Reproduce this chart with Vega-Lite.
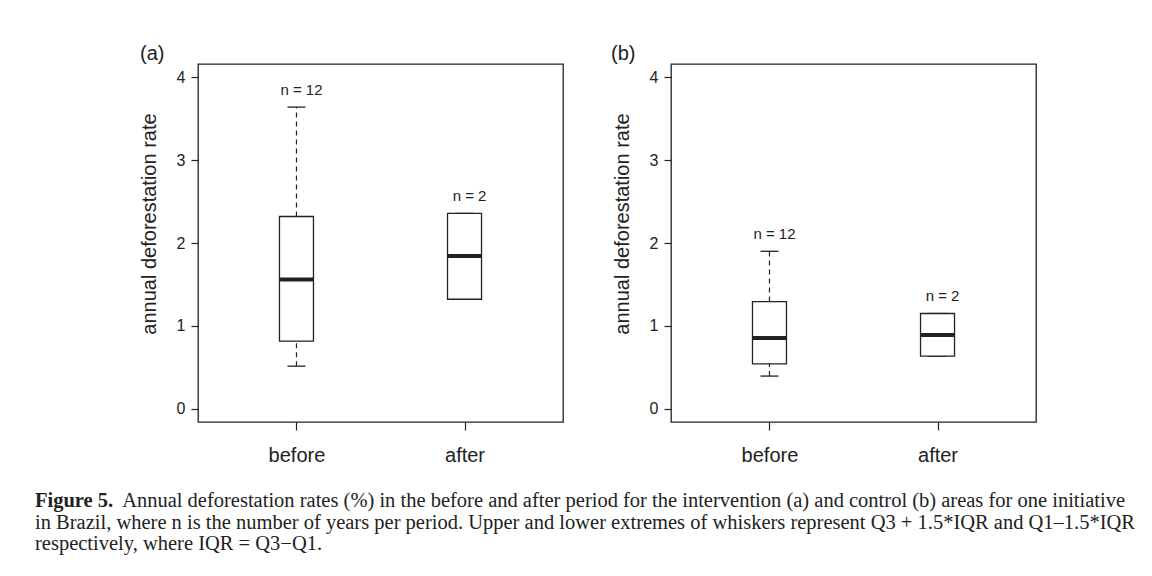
{
  "$schema": "https://vega.github.io/schema/vega-lite/v6.json",
  "padding": {"left": 35, "top": 42, "right": 5, "bottom": 5},
  "background": "white",
  "bounds": "flush",
  "spacing": 108,
  "datasets": {
    "boxes": [
      {"panel": "a", "period": "before", "lower": 0.514, "q1": 0.815, "median": 1.56, "q3": 2.32, "upper": 3.64, "nlabel": "n = 12", "label_y": 3.85},
      {"panel": "a", "period": "after", "lower": 1.321, "q1": 1.321, "median": 1.843, "q3": 2.357, "upper": 2.357, "nlabel": "n = 2", "label_y": 2.57},
      {"panel": "b", "period": "before", "lower": 0.394, "q1": 0.542, "median": 0.855, "q3": 1.293, "upper": 1.9, "nlabel": "n = 12", "label_y": 2.11},
      {"panel": "b", "period": "after", "lower": 0.635, "q1": 0.635, "median": 0.891, "q3": 1.149, "upper": 1.149, "nlabel": "n = 2", "label_y": 1.36}
    ]
  },
  "title": {
    "text": "Figure 5.",
    "subtitle": [
      "\u200b\u00a0\u00a0\u00a0\u00a0\u00a0\u00a0\u00a0\u00a0\u00a0\u00a0\u00a0\u00a0\u00a0\u00a0\u00a0\u00a0\u00a0Annual deforestation rates (%) in the before and after period for the intervention (a) and control (b) areas for one initiative",
      "in Brazil, where n is the number of years per period. Upper and lower extremes of whiskers represent Q3 + 1.5*IQR and Q1–1.5*IQR",
      "respectively, where IQR = Q3−Q1."
    ],
    "orient": "bottom",
    "anchor": "start",
    "frame": "group",
    "dx": -163,
    "offset": 25,
    "baseline": "top",
    "font": "Liberation Serif",
    "fontSize": 20.5,
    "fontWeight": "bold",
    "color": "#222",
    "subtitleFont": "Liberation Serif",
    "subtitleFontSize": 20.5,
    "subtitleFontWeight": "normal",
    "subtitleColor": "#222",
    "subtitleLineHeight": 21.5,
    "subtitlePadding": -20.5
  },
  "hconcat": [
    {
      "width": 365,
      "height": 358,
      "title": {"text": "(a)", "anchor": "start", "frame": "group", "dx": -58, "offset": -15.5, "baseline": "alphabetic", "fontSize": 20, "fontWeight": "normal", "color": "#222"},
      "data": {"name": "boxes"},
      "transform": [{"filter": "datum.panel == 'a'"}],
      "encoding": {
        "x": {"field": "period", "type": "nominal", "sort": ["before", "after"], "scale": {"type": "point", "padding": 0.586},
              "axis": {"title": null, "tickSize": 8, "labelPadding": 15.5, "labelFontSize": 20, "labelAngle": 0}},
        "y": {"type": "quantitative", "scale": {"domain": [-0.16, 4.16], "nice": false, "zero": false},
              "axis": {"values": [0, 1, 2, 3, 4], "title": "annual deforestation rate", "titleFontSize": 20, "titleX": -43, "titleY": 159.5, "titleBaseline": "alphabetic", "tickSize": 7, "labelPadding": 6, "labelFontSize": 16, "labelAngle": 0, "labelAlign": "right", "labelBaseline": "middle"}}
      },
      "layer": [
        {"mark": {"type": "rule", "stroke": "#222", "strokeWidth": 1.2, "strokeDash": [5, 4]}, "encoding": {"y": {"field": "q3", "type": "quantitative"}, "y2": {"field": "upper"}}},
        {"mark": {"type": "rule", "stroke": "#222", "strokeWidth": 1.2, "strokeDash": [5, 4]}, "encoding": {"y": {"field": "lower", "type": "quantitative"}, "y2": {"field": "q1"}}},
        {"mark": {"type": "tick", "color": "#222", "opacity": 1, "size": 18, "thickness": 1.3}, "encoding": {"y": {"field": "upper", "type": "quantitative"}}},
        {"mark": {"type": "tick", "color": "#222", "opacity": 1, "size": 18, "thickness": 1.3}, "encoding": {"y": {"field": "lower", "type": "quantitative"}}},
        {"mark": {"type": "bar", "width": 34, "fill": "white", "stroke": "#222", "strokeWidth": 1.3}, "encoding": {"y": {"field": "q1", "type": "quantitative"}, "y2": {"field": "q3"}}},
        {"mark": {"type": "tick", "color": "#222", "opacity": 1, "size": 34, "thickness": 4}, "encoding": {"y": {"field": "median", "type": "quantitative"}}},
        {"mark": {"type": "text", "fontSize": 15, "color": "#222", "baseline": "middle", "dx": 5}, "encoding": {"y": {"field": "label_y", "type": "quantitative"}, "text": {"field": "nlabel"}}}
      ]
    },
    {
      "width": 365,
      "height": 358,
      "title": {"text": "(b)", "anchor": "start", "frame": "group", "dx": -60, "offset": -15.5, "baseline": "alphabetic", "fontSize": 20, "fontWeight": "normal", "color": "#222"},
      "data": {"name": "boxes"},
      "transform": [{"filter": "datum.panel == 'b'"}],
      "encoding": {
        "x": {"field": "period", "type": "nominal", "sort": ["before", "after"], "scale": {"type": "point", "padding": 0.586},
              "axis": {"title": null, "tickSize": 8, "labelPadding": 15.5, "labelFontSize": 20, "labelAngle": 0}},
        "y": {"type": "quantitative", "scale": {"domain": [-0.16, 4.16], "nice": false, "zero": false},
              "axis": {"values": [0, 1, 2, 3, 4], "title": "annual deforestation rate", "titleFontSize": 20, "titleX": -43, "titleY": 159.5, "titleBaseline": "alphabetic", "tickSize": 7, "labelPadding": 6, "labelFontSize": 16, "labelAngle": 0, "labelAlign": "right", "labelBaseline": "middle"}}
      },
      "layer": [
        {"mark": {"type": "rule", "stroke": "#222", "strokeWidth": 1.2, "strokeDash": [5, 4]}, "encoding": {"y": {"field": "q3", "type": "quantitative"}, "y2": {"field": "upper"}}},
        {"mark": {"type": "rule", "stroke": "#222", "strokeWidth": 1.2, "strokeDash": [5, 4]}, "encoding": {"y": {"field": "lower", "type": "quantitative"}, "y2": {"field": "q1"}}},
        {"mark": {"type": "tick", "color": "#222", "opacity": 1, "size": 18, "thickness": 1.3}, "encoding": {"y": {"field": "upper", "type": "quantitative"}}},
        {"mark": {"type": "tick", "color": "#222", "opacity": 1, "size": 18, "thickness": 1.3}, "encoding": {"y": {"field": "lower", "type": "quantitative"}}},
        {"mark": {"type": "bar", "width": 34, "fill": "white", "stroke": "#222", "strokeWidth": 1.3}, "encoding": {"y": {"field": "q1", "type": "quantitative"}, "y2": {"field": "q3"}}},
        {"mark": {"type": "tick", "color": "#222", "opacity": 1, "size": 34, "thickness": 4}, "encoding": {"y": {"field": "median", "type": "quantitative"}}},
        {"mark": {"type": "text", "fontSize": 15, "color": "#222", "baseline": "middle", "dx": 5}, "encoding": {"y": {"field": "label_y", "type": "quantitative"}, "text": {"field": "nlabel"}}}
      ]
    }
  ],
  "config": {
    "font": "Liberation Sans",
    "view": {"stroke": "#222", "strokeWidth": 1.3},
    "axis": {"grid": false, "domain": false, "tickColor": "#222", "tickWidth": 1.2, "labelColor": "#222", "titleColor": "#222", "titleFontWeight": "normal", "labelFont": "Liberation Sans", "titleFont": "Liberation Sans"},
    "title": {"font": "Liberation Sans"}
  }
}
